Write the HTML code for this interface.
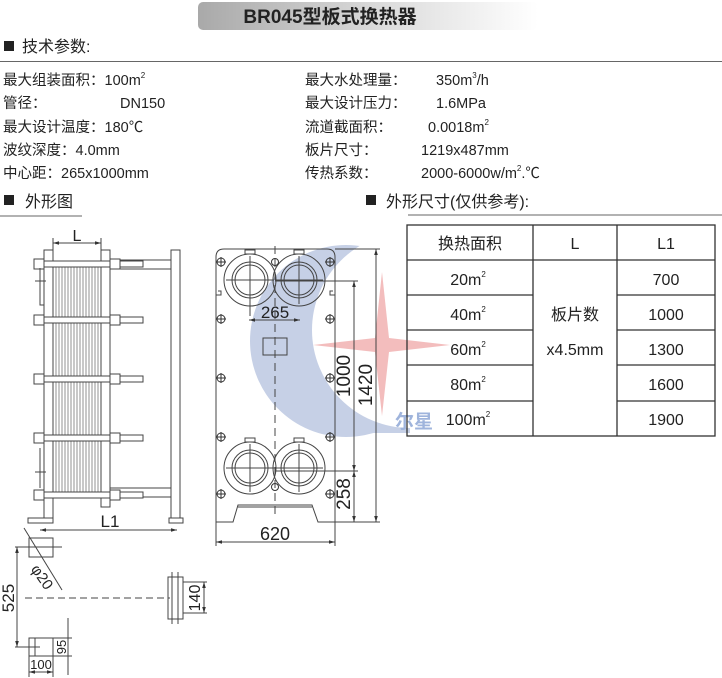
<!DOCTYPE html>
<html><head><meta charset="utf-8"><style>
html,body{margin:0;padding:0;background:#fff;}
svg{display:block;}
text{font-family:"Liberation Sans","Noto Sans CJK SC",sans-serif;fill:#222;}
</style></head><body>
<svg width="722" height="678" viewBox="0 0 722 678" xmlns="http://www.w3.org/2000/svg">
<defs>
<linearGradient id="tg" x1="0" x2="1" y1="0" y2="0">
<stop offset="0" stop-color="#a9a9a9"/><stop offset="0.55" stop-color="#dcdcdc"/><stop offset="1" stop-color="#fff"/>
</linearGradient>
<marker id="a" viewBox="0 0 10 10" refX="10" refY="5" markerWidth="6" markerHeight="6" orient="auto-start-reverse"><path d="M0,2 L10,5 L0,8 z" fill="#333"/></marker>
<mask id="cm">
<circle cx="346" cy="341" r="96" fill="#fff"/>
<rect x="346" y="419" width="64" height="14" fill="#fff"/>
<circle cx="410" cy="330" r="98" fill="#000"/>
</mask>
</defs>
<!-- title -->
<rect x="198" y="2" width="340" height="28" rx="5" fill="url(#tg)"/>
<text x="330" y="23" font-size="19" font-weight="bold" text-anchor="middle" fill="#111">BR045型板式换热器</text>
<rect x="4" y="41" width="10" height="10" fill="#222"/>
<text x="22" y="52" font-size="16">技术参数:</text>
<line x1="0" y1="61.5" x2="722" y2="61.5" stroke="#666" stroke-width="1"/>
<!-- params -->
<g font-size="14.5">
<text x="3" y="85">最大组装面积：100m<tspan font-size="8" dy="-7">2</tspan></text>
<text x="3" y="108">管径：<tspan x="120">DN150</tspan></text>
<text x="3" y="132">最大设计温度：180℃</text>
<text x="3" y="155">波纹深度：4.0mm</text>
<text x="3" y="178">中心距：265x1000mm</text>
<text x="305" y="85">最大水处理量： <tspan x="436">350m</tspan><tspan font-size="8" dy="-7">3</tspan><tspan dy="7">/h</tspan></text>
<text x="305" y="108">最大设计压力： <tspan x="436">1.6MPa</tspan></text>
<text x="305" y="132">流道截面积： <tspan x="428">0.0018m</tspan><tspan font-size="8" dy="-7">2</tspan></text>
<text x="305" y="155">板片尺寸： <tspan x="421">1219x487mm</tspan></text>
<text x="305" y="178">传热系数： <tspan x="421">2000-6000w/m</tspan><tspan font-size="8" dy="-7">2</tspan><tspan dy="7">.℃</tspan></text>
</g>
<rect x="4" y="195" width="10" height="10" fill="#222"/>
<text x="25" y="207" font-size="16">外形图</text>
<line x1="0" y1="216" x2="82" y2="216" stroke="#666"/>
<rect x="366" y="195" width="10" height="10" fill="#222"/>
<text x="386" y="207" font-size="16">外形尺寸(仅供参考):</text>
<line x1="408" y1="215" x2="722" y2="215" stroke="#666"/>

<!-- logo -->
<rect x="240" y="240" width="180" height="200" fill="#c6d0e6" mask="url(#cm)"/>
<path d="M382,272 L389,338 L450,345 L389,352 L382,416 L375,352 L313,345 L375,338 Z" fill="#f1b2b2" opacity="0.85"/>
<text x="395" y="428" font-size="19" font-weight="bold" fill="#9fb4dc" style="fill:#9fb4dc">尔星</text>

<!-- table -->
<g stroke="#333" stroke-width="1.3" fill="none">
<rect x="407" y="225" width="308" height="211"/>
<line x1="533" y1="225" x2="533" y2="436"/>
<line x1="617" y1="225" x2="617" y2="436"/>
<line x1="407" y1="260" x2="715" y2="260"/>
<line x1="407" y1="295" x2="533" y2="295"/><line x1="617" y1="295" x2="715" y2="295"/>
<line x1="407" y1="330" x2="533" y2="330"/><line x1="617" y1="330" x2="715" y2="330"/>
<line x1="407" y1="365" x2="533" y2="365"/><line x1="617" y1="365" x2="715" y2="365"/>
<line x1="407" y1="401" x2="533" y2="401"/><line x1="617" y1="401" x2="715" y2="401"/>
</g>
<g font-size="16" text-anchor="middle">
<text x="470" y="249">换热面积</text><text x="575" y="249">L</text><text x="666" y="249">L1</text>
<text x="468" y="285">20m<tspan font-size="8" dy="-8">2</tspan></text>
<text x="468" y="320">40m<tspan font-size="8" dy="-8">2</tspan></text>
<text x="468" y="355">60m<tspan font-size="8" dy="-8">2</tspan></text>
<text x="468" y="390">80m<tspan font-size="8" dy="-8">2</tspan></text>
<text x="468" y="425">100m<tspan font-size="8" dy="-8">2</tspan></text>
<text x="575" y="320">板片数</text><text x="575" y="355">x4.5mm</text>
<text x="666" y="285">700</text><text x="666" y="320">1000</text><text x="666" y="355">1300</text><text x="666" y="390">1600</text><text x="666" y="425">1900</text>
</g>

<!-- side view -->
<g stroke="#444" stroke-width="1" fill="#fff">
<line x1="53" y1="243" x2="101" y2="243" marker-start="url(#a)" marker-end="url(#a)"/>
<line x1="53" y1="238" x2="53" y2="250"/><line x1="101" y1="238" x2="101" y2="250"/>
<g stroke="#777" stroke-width="0.8">
<path d="M56,263V497M59,263V497M62,263V497M65,263V497M68,263V497M71,263V497M74,263V497M77,263V497M80,263V497M83,263V497M86,263V497M89,263V497M92,263V497M95,263V497M98,263V497"/>
</g>
<rect x="44" y="250" width="9" height="269"/>
<rect x="101" y="250" width="9" height="257"/>
<rect x="171" y="250" width="9" height="269"/>
<rect x="110" y="260" width="61" height="9"/>
<rect x="110" y="488" width="61" height="9"/>
<rect x="28" y="518" width="25" height="5"/><rect x="169" y="518" width="14" height="5"/>
<g>
<rect x="38" y="261" width="105" height="6"/><rect x="34" y="259" width="10" height="10"/><rect x="110" y="259" width="10" height="10"/>
<rect x="38" y="317" width="105" height="6"/><rect x="34" y="315" width="10" height="10"/><rect x="110" y="315" width="10" height="10"/>
<rect x="38" y="376" width="105" height="6"/><rect x="34" y="374" width="10" height="10"/><rect x="110" y="374" width="10" height="10"/>
<rect x="38" y="435" width="105" height="6"/><rect x="34" y="433" width="10" height="10"/><rect x="110" y="433" width="10" height="10"/>
<rect x="38" y="492" width="105" height="6"/><rect x="34" y="490" width="10" height="10"/><rect x="110" y="490" width="10" height="10"/>
</g>
<path d="M40,268V305H44M40,448V488M35,281H46M35,472H46" fill="none"/>
<line x1="40" y1="530" x2="177" y2="530" marker-start="url(#a)" marker-end="url(#a)"/>
</g>
<text x="110" y="527" font-size="17" text-anchor="middle">L1</text>
<text x="77" y="241" font-size="16" text-anchor="middle">L</text>

<!-- bottom details -->
<g stroke="#444" stroke-width="1" fill="none">
<rect x="29" y="538" width="24" height="19"/>
<line x1="15" y1="547" x2="62" y2="547"/>
<line x1="24" y1="528" x2="62" y2="590"/>
<line x1="17" y1="547" x2="17" y2="647" marker-start="url(#a)" marker-end="url(#a)"/>
<line x1="25" y1="598" x2="170" y2="598" stroke-dasharray="7,4"/>
<rect x="29" y="638" width="24" height="18"/>
<line x1="35" y1="638" x2="35" y2="656"/>
<line x1="15" y1="647" x2="40" y2="647"/>
<line x1="68" y1="618" x2="68" y2="675"/>
<line x1="53" y1="638" x2="72" y2="638"/><line x1="53" y1="656" x2="72" y2="656"/>
<line x1="29" y1="672" x2="53" y2="672" marker-start="url(#a)" marker-end="url(#a)"/>
<line x1="29" y1="656" x2="29" y2="677"/><line x1="53" y1="656" x2="53" y2="677"/>
<rect x="168" y="577" width="15" height="42"/>
<line x1="172" y1="572" x2="172" y2="624"/><line x1="178" y1="572" x2="178" y2="624"/>
<line x1="183" y1="582" x2="207" y2="582"/><line x1="183" y1="613" x2="207" y2="613"/>
<line x1="204" y1="582" x2="204" y2="613" marker-start="url(#a)" marker-end="url(#a)"/>
</g>
<text transform="translate(38,580) rotate(55)" font-size="15" text-anchor="middle">φ20</text>
<text transform="translate(14,598) rotate(-90)" font-size="17" text-anchor="middle">525</text>
<text transform="translate(66,647) rotate(-90)" font-size="13" text-anchor="middle">95</text>
<text x="41" y="669" font-size="13" text-anchor="middle">100</text>
<text transform="translate(200,598) rotate(-90)" font-size="16" text-anchor="middle">140</text>

<!-- front view -->
<g stroke="#444" stroke-width="1" fill="none">
<path d="M224,249H327Q335,249 335,257V522H318L312,505H238L233,522H216V257Q216,249 224,249Z"/>
<line x1="238" y1="507" x2="312" y2="507"/>
<path d="M216,295h5v-4h-3M335,295h-5v-4h3"/>
<line x1="275" y1="246" x2="275" y2="518" stroke-dasharray="8,5"/>
<rect x="263" y="338" width="24" height="17"/>
<g>
<circle cx="250" cy="280" r="26"/><circle cx="250" cy="280" r="18"/><circle cx="250" cy="280" r="15"/>
<circle cx="299" cy="280" r="26"/><circle cx="299" cy="280" r="18"/><circle cx="299" cy="280" r="15"/>
<circle cx="250" cy="468" r="26"/><circle cx="250" cy="468" r="18"/><circle cx="250" cy="468" r="15"/>
<circle cx="299" cy="468" r="26"/><circle cx="299" cy="468" r="18"/><circle cx="299" cy="468" r="15"/>
<rect x="245" y="250" width="10" height="4"/><rect x="294" y="250" width="10" height="4"/>
<rect x="245" y="438" width="10" height="4"/><rect x="294" y="438" width="10" height="4"/>
<path d="M226,280H274M250,256V316M275,280H323M299,256V304M226,468H323M250,444V492M299,444V492"/>
</g>
<g stroke="#333">
<circle cx="221" cy="262" r="4"/><circle cx="330" cy="262" r="4"/>
<circle cx="221" cy="319" r="4"/><circle cx="330" cy="319" r="4"/>
<circle cx="221" cy="378" r="4"/><circle cx="330" cy="378" r="4"/>
<circle cx="221" cy="437" r="4"/><circle cx="330" cy="437" r="4"/>
<circle cx="221" cy="494" r="4"/><circle cx="330" cy="494" r="4"/>
<circle cx="275" cy="262" r="3.5"/><circle cx="275" cy="487" r="3.5"/>
<path d="M216,262h10M221,257v10M325,262h10M330,257v10M216,319h10M221,314v10M325,319h10M330,314v10M216,378h10M221,373v10M325,378h10M330,373v10M216,437h10M221,432v10M325,437h10M330,432v10M216,494h10M221,489v10M325,494h10M330,489v10"/>
</g>
<line x1="249" y1="320" x2="300" y2="320" marker-start="url(#a)" marker-end="url(#a)"/>
<line x1="275" y1="281" x2="358" y2="281"/><line x1="275" y1="471" x2="358" y2="471"/>
<line x1="335" y1="249" x2="380" y2="249"/><line x1="335" y1="522" x2="380" y2="522"/>
<line x1="354" y1="281" x2="354" y2="471" marker-start="url(#a)" marker-end="url(#a)"/>
<line x1="354" y1="471" x2="354" y2="522" marker-start="url(#a)" marker-end="url(#a)"/>
<line x1="376" y1="249" x2="376" y2="522" marker-start="url(#a)" marker-end="url(#a)"/>
<line x1="216" y1="522" x2="216" y2="546"/><line x1="335" y1="522" x2="335" y2="546"/>
<line x1="216" y1="542" x2="335" y2="542" marker-start="url(#a)" marker-end="url(#a)"/>
</g>
<text x="275" y="318" font-size="17" text-anchor="middle">265</text>
<text transform="translate(350,376) rotate(-90)" font-size="19" text-anchor="middle">1000</text>
<text transform="translate(372,385) rotate(-90)" font-size="19" text-anchor="middle">1420</text>
<text transform="translate(350,494) rotate(-90)" font-size="19" text-anchor="middle">258</text>
<text x="275" y="540" font-size="18" text-anchor="middle">620</text>
</svg>
</body></html>
